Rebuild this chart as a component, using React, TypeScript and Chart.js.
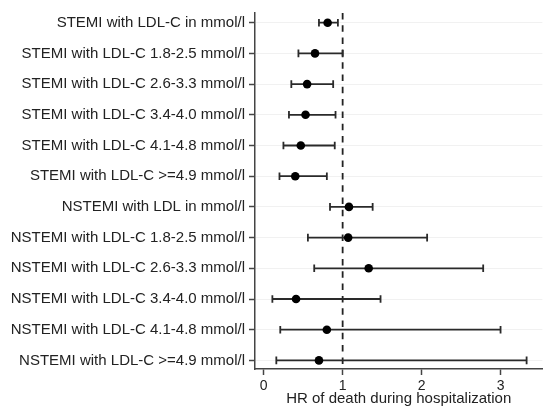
import { useEffect, useRef } from "react";
import { Chart, registerables } from "chart.js";

Chart.register(...registerables);

const categories = [
  "STEMI with LDL-C in mmol/l",
  "STEMI with LDL-C 1.8-2.5 mmol/l",
  "STEMI with LDL-C 2.6-3.3 mmol/l",
  "STEMI with LDL-C 3.4-4.0 mmol/l",
  "STEMI with LDL-C 4.1-4.8 mmol/l",
  "STEMI with LDL-C >=4.9 mmol/l",
  "NSTEMI with LDL in mmol/l",
  "NSTEMI with LDL-C 1.8-2.5 mmol/l",
  "NSTEMI with LDL-C 2.6-3.3 mmol/l",
  "NSTEMI with LDL-C 3.4-4.0 mmol/l",
  "NSTEMI with LDL-C 4.1-4.8 mmol/l",
  "NSTEMI with LDL-C >=4.9 mmol/l",
];

const hr = [0.81, 0.65, 0.55, 0.53, 0.47, 0.40, 1.08, 1.07, 1.33, 0.41, 0.80, 0.70];
const lower = [0.70, 0.44, 0.35, 0.32, 0.25, 0.20, 0.84, 0.56, 0.64, 0.11, 0.21, 0.16];
const upper = [0.94, 1.00, 0.88, 0.91, 0.90, 0.80, 1.38, 2.07, 2.78, 1.48, 3.00, 3.33];

const xTicks = [0, 1, 2, 3];
const referenceValue = 1;
const xTitle = "HR of death during hospitalization";

const FONT = "'Liberation Sans', Arial, sans-serif";
const INK = "#222222";
const AXIS = "#444444";

export default function App() {
  const ref = useRef<HTMLCanvasElement | null>(null);

  useEffect(() => {
    if (!ref.current) return;
    const yMin = 0.684;
    const yMax = 12.28;

    const pointsDs: any = {
      label: "HR",
      data: hr.map((v, i) => ({ x: v, y: i + 1 })),
      pointRadius: 4.3,
      pointHoverRadius: 4.3,
      pointBackgroundColor: "#000",
      pointBorderColor: "#000",
      pointBorderWidth: 0,
      showLine: false,
    };

    const errDs: any[] = categories.map((_, i) => ({
      label: "ci" + i,
      data: [
        { x: lower[i], y: i + 1 },
        { x: upper[i], y: i + 1 },
      ],
      showLine: true,
      borderColor: "#2a2a2a",
      borderWidth: 1.8,
      pointStyle: "line",
      pointRotation: 90,
      pointRadius: 3.8,
      pointHoverRadius: 3.8,
      pointBorderColor: "#2a2a2a",
      pointBorderWidth: 1.8,
      pointBackgroundColor: "#2a2a2a",
    }));

    const refDs: any = {
      label: "ref",
      data: [
        { x: referenceValue, y: yMin },
        { x: referenceValue, y: yMax },
      ],
      showLine: true,
      borderColor: INK,
      borderWidth: 1.8,
      borderDash: [6.5, 5.8],
      pointRadius: 0,
      pointHoverRadius: 0,
    };

    const chart = new Chart(ref.current, {
      type: "scatter",
      data: { datasets: [pointsDs, ...errDs, refDs] },
      options: {
        animation: false,
        responsive: false,
        maintainAspectRatio: false,
        layout: { padding: { top: 13, left: 0, right: 0, bottom: 0 } },
        plugins: {
          legend: { display: false },
          tooltip: { enabled: false },
        },
        events: [],
        scales: {
          x: {
            type: "linear",
            min: -0.11,
            max: 3.53,
            afterBuildTicks: (s: any) => {
              s.ticks = xTicks.map((v) => ({ value: v }));
            },
            afterFit: (s: any) => {
              s.height = 43;
            },
            grid: {
              drawOnChartArea: false,
              drawTicks: true,
              tickLength: 6,
              tickColor: AXIS,
              tickWidth: 1.5,
            },
            border: { display: true, color: AXIS, width: 1.5 },
            ticks: {
              padding: 3,
              color: INK,
              font: { family: FONT, size: 14 },
              maxRotation: 0,
              autoSkip: false,
            },
            title: {
              display: true,
              text: xTitle,
              color: INK,
              font: { family: FONT, size: 15 },
            },
          },
          y: {
            type: "linear",
            reverse: true,
            min: yMin,
            max: yMax,
            afterBuildTicks: (s: any) => {
              s.ticks = categories.map((_, i) => ({ value: i + 1 }));
            },
            afterFit: (s: any) => {
              s.width = 255;
            },
            grid: {
              drawOnChartArea: true,
              color: "#f1f1f1",
              lineWidth: 1,
              drawTicks: true,
              tickLength: 6,
              tickColor: AXIS,
              tickWidth: 1.5,
            },
            border: { display: true, color: AXIS, width: 1.5 },
            ticks: {
              padding: 4,
              color: INK,
              font: { family: FONT, size: 15 },
              autoSkip: false,
              callback: (v: any) => {
                const idx = Math.round(Number(v)) - 1;
                return categories[idx] ?? "";
              },
            },
          },
        },
      },
    });
    return () => chart.destroy();
  }, []);

  return (
    <div
      style={{
        position: "absolute",
        top: 0,
        left: 0,
        width: 548,
        height: 406,
        overflow: "hidden",
        background: "#fff",
      }}
    >
      <canvas ref={ref} width={548} height={412} style={{ width: 548, height: 412, display: "block" }} />
    </div>
  );
}
